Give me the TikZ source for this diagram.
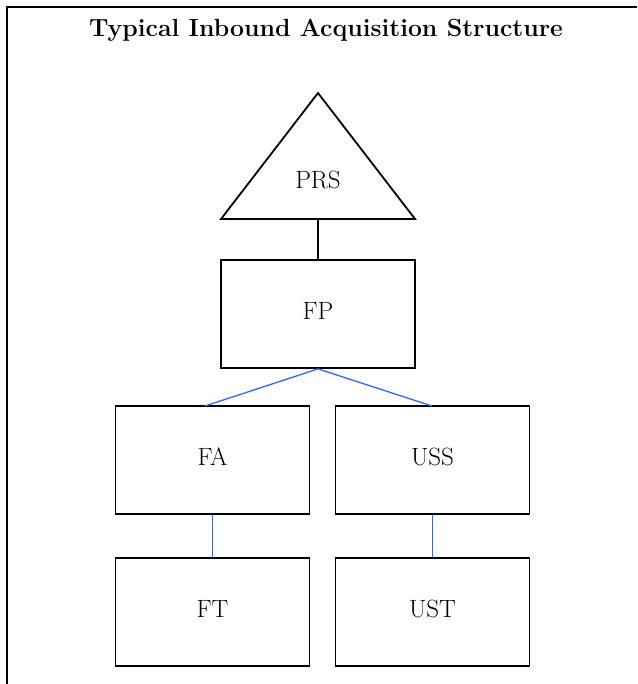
\documentclass[tikz,border=0pt]{standalone}
\usepackage{fontspec}
\definecolor{linkblue}{RGB}{51,102,255}
\begin{document}
\begin{tikzpicture}[x=1pt,y=-1pt,
  box/.style={draw=black,line width=1.8pt,minimum width=194pt,minimum height=108pt,inner sep=0pt,text depth=6pt,font=\fontsize{25}{29}\selectfont},
  lbl/.style={inner sep=0pt,font=\fontsize{25}{29}\selectfont},
  blueline/.style={draw=linkblue,line width=1.3pt},
  blackline/.style={draw=black,line width=1.8pt}]
\useasboundingbox (0,0) rectangle (637,684);
\draw[line width=2pt] (7,684) -- (7,7) -- (637,7);
\node[inner sep=0pt,font=\bfseries\fontsize{24.8}{29}\selectfont,anchor=base] (title) at (326,37) {Typical Inbound Acquisition Structure};
% triangle
\coordinate (apex) at (318,93);
\coordinate (bl) at (221,219);
\coordinate (br) at (415,219);
\coordinate (tribase) at (318,219);
\draw[blackline,line join=miter] (apex) -- (bl) -- (br) -- cycle;
\node[lbl] (prs) at (318,180) {PRS};
\node[box] (fp) at (318,314) {FP};
\node[box] (fa) at (212.5,460) {FA};
\node[box] (uss) at (432.5,460) {USS};
\node[box] (ft) at (212.5,612) {FT};
\node[box] (ust) at (432.5,612) {UST};
\draw[blackline] (tribase) -- (fp.north);
\coordinate (faend) at (205,406);
\coordinate (ussend) at (432,406);
\draw[blueline] (faend) -- (fp.south) -- (ussend);
\draw[blueline] (fa.south) -- (ft.north);
\draw[blueline] (uss.south) -- (ust.north);
\end{tikzpicture}
\end{document}
